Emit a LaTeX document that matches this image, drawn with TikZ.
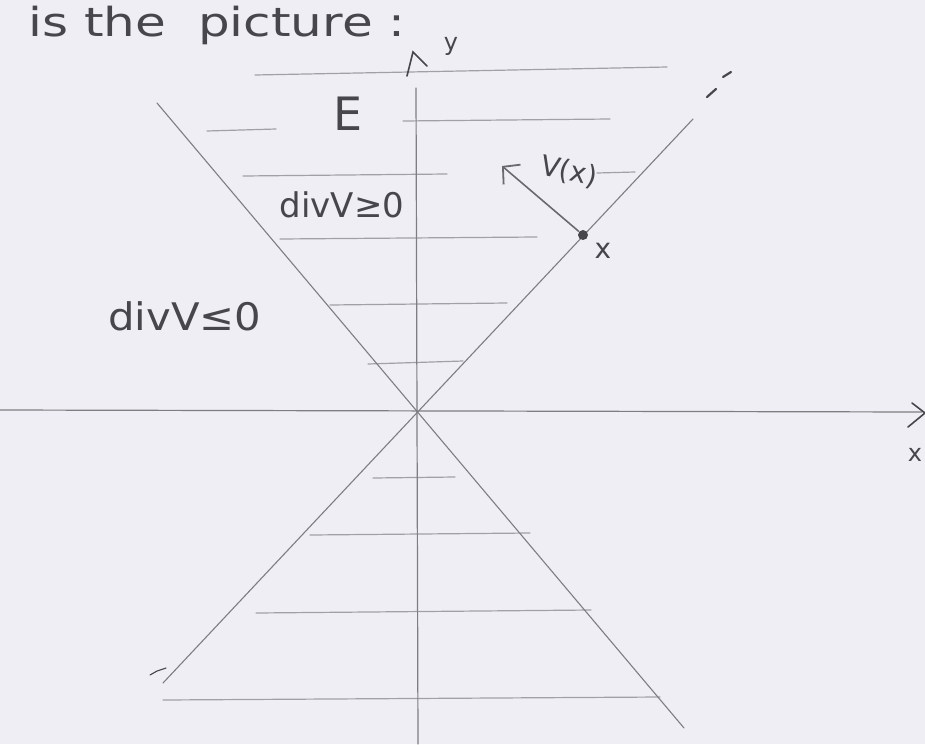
\documentclass[tikz,border=0pt]{standalone}
\usepackage{fontspec}
\setmainfont{DejaVu Sans}
\usetikzlibrary{arrows.meta}
\definecolor{paper}{RGB}{239,238,244}
\definecolor{pencil}{RGB}{125,125,130}
\definecolor{lightpencil}{RGB}{160,160,166}
\definecolor{ink}{RGB}{70,70,76}
\begin{document}
\begin{tikzpicture}[x=0.5pt,y=-0.5pt,
  axisline/.style={draw=pencil,line width=0.6pt,line cap=round},
  coneline/.style={draw=pencil,line width=0.55pt,line cap=round},
  hatch/.style={draw=lightpencil,line width=0.6pt,line cap=round},
  lbl/.style={text=ink,inner sep=0pt},
  vecarrow/.style={draw=pencil!85!black,line width=0.8pt,-{Straight Barb[length=6pt,width=13pt,line width=0.9pt]}}]
\fill[paper] (0,0) rectangle (925,744);
\useasboundingbox (0,0) rectangle (925,744);

% title (cut at the top edge, as in the reference)
\node[lbl,anchor=base west,font=\fontsize{20}{24}\selectfont,xscale=1.25] (title) at (28,36) {is the\ \ picture :};

% coordinates
\coordinate (O) at (418,412);
\coordinate (xl) at (0,410);
\coordinate (xr) at (922,412);
\coordinate (yb) at (418,744);
\coordinate (yt) at (416,88);
\coordinate (c1a) at (157,103);
\coordinate (c1b) at (684,728);
\coordinate (c2a) at (163,683);
\coordinate (c2b) at (693,119);

% hatching lines
\draw[hatch] (255,75) -- (667,67);
\draw[hatch] (207,131) -- (276,129);
\draw[hatch] (403,121) -- (610,119);
\draw[hatch] (243,176) -- (447,174);
\draw[hatch] (597,173) -- (635,172);
\draw[hatch] (280,239) -- (537,237);
\draw[hatch] (330,305) -- (507,303);
\draw[hatch] (368,364) -- (463,361);
\draw[hatch] (373,478) -- (455,477);
\draw[hatch] (310,535) -- (530,533);
\draw[hatch] (256,613) -- (591,610);
\draw[hatch] (163,700) -- (660,697);

% cone lines
\draw[coneline] (c1a) -- (c1b);
\draw[coneline] (c2a) -- (c2b);
\draw[coneline,line width=1.1pt,draw=ink] (707,97) -- (716,89);
\draw[coneline,line width=1.1pt,draw=ink] (723,77) -- (731,72);
\draw[coneline,draw=ink] (150,675) -- (157,671) -- (166,668);

% axes
\draw[axisline] (xl) -- (xr);
\draw[axisline,draw=ink,line width=0.8pt] (912,403) -- (925,413) -- (908,427);
\draw[axisline] (yb) -- (yt);
\draw[axisline,draw=ink,line width=0.8pt] (407,76) -- (413,52) -- (427,66);
\node[lbl,font=\fontsize{12}{14}\selectfont] (ylab) at (451,46) {y};
\node[lbl,font=\fontsize{12}{14}\selectfont] (xlab) at (915,455) {x};

% point and vector
\node[circle,fill=ink,inner sep=0pt,minimum size=5pt] (pt) at (583,235) {};
\coordinate (vtip) at (502,166);
\draw[vecarrow] (pt) -- (vtip);
\node[lbl,font=\fontsize{14}{16}\selectfont] (ptlab) at (603,251) {x};
\node[lbl,font=\fontsize{14}{16}\selectfont,rotate=-12] (vlab) at (569,172) {V(x)};

% region labels
\node[lbl,font=\fontsize{23}{26}\selectfont] (E) at (348,114) {E};
\node[lbl,font=\fontsize{17}{20}\selectfont] (pos) at (342,205) {divV≥0};
\node[lbl,font=\fontsize{19}{22}\selectfont,xscale=1.1] (neg) at (185,316) {divV≤0};
\end{tikzpicture}
\end{document}
